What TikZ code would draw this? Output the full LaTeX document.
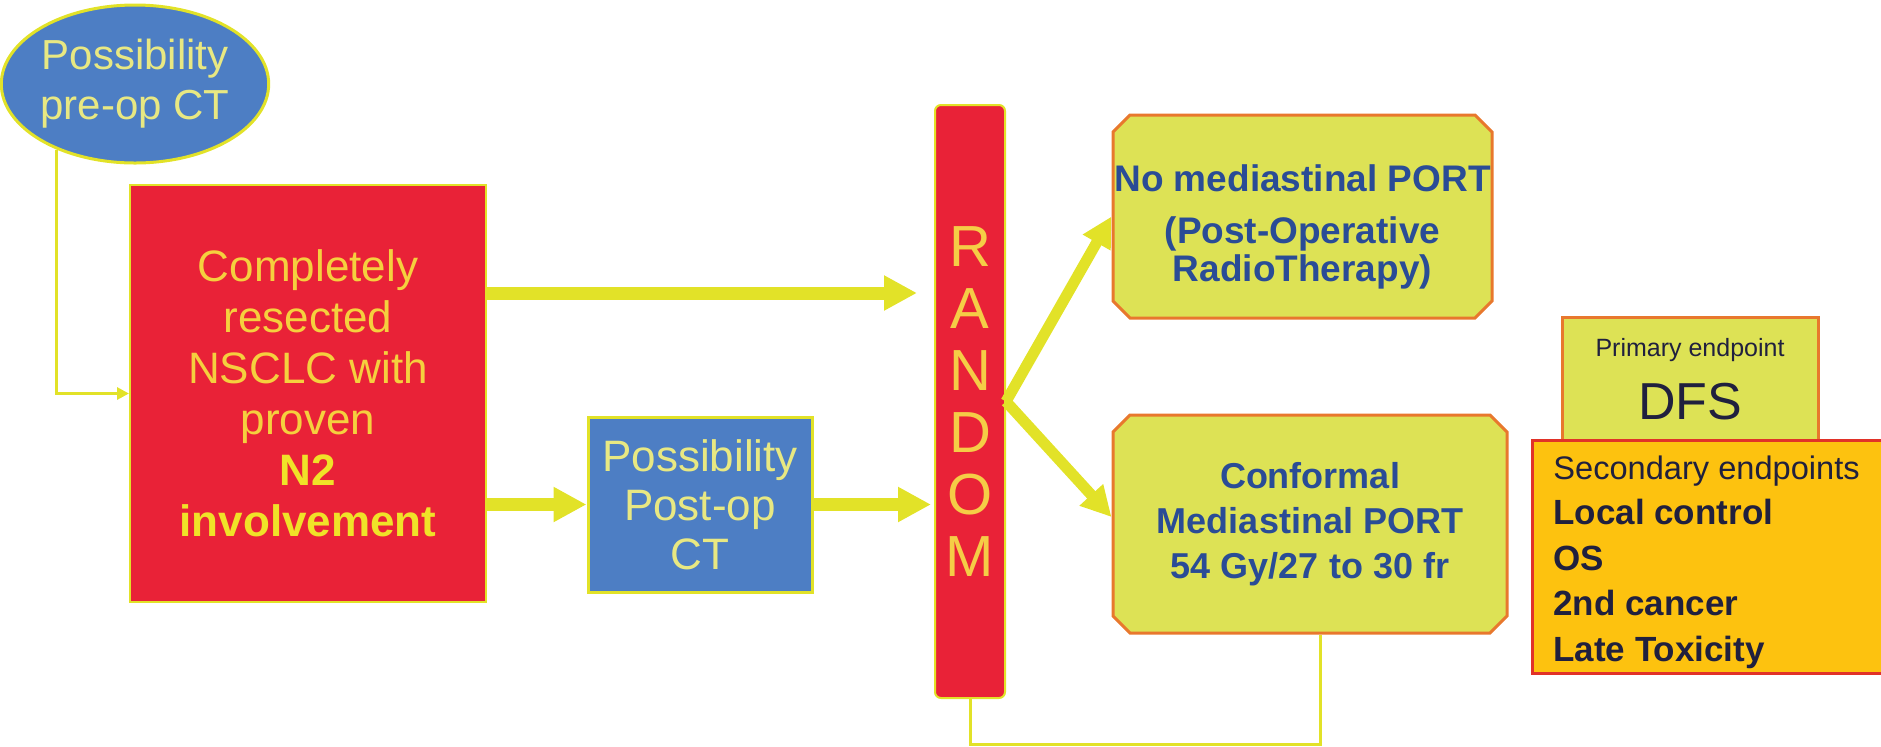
\documentclass[tikz,border=0pt]{standalone}
\usepackage{fontspec}
\setmainfont{Liberation Sans}
\usetikzlibrary{arrows.meta,shapes.geometric,shapes.misc}
\definecolor{redfill}{RGB}{233,34,55}
\definecolor{bluefill}{RGB}{77,126,196}
\definecolor{yel}{RGB}{226,226,40}
\definecolor{redtext}{RGB}{245,208,62}
\definecolor{redbold}{RGB}{240,226,40}
\definecolor{lightyel}{RGB}{232,232,130}
\definecolor{randtext}{RGB}{245,205,70}
\definecolor{boxfill}{RGB}{221,226,85}
\definecolor{boxborder}{RGB}{232,120,45}
\definecolor{navytext}{RGB}{42,76,150}
\definecolor{secfill}{RGB}{253,194,15}
\definecolor{secborder}{RGB}{225,50,40}
\definecolor{darktext}{RGB}{32,32,62}
\begin{document}
\begin{tikzpicture}[x=0.5pt,y=-0.5pt,
  bigarrow/.style={draw=yel, line width=6.5pt, -{Triangle[length=16.5pt,width=16.5pt]}},
  forkarrow/.style={draw=yel, line width=5.5pt, -{Triangle[length=15pt,width=15pt]}},
  thinarrow/.style={draw=yel, line width=1.5pt, -{Triangle[length=6pt,width=6pt]}},
  thinline/.style={draw=yel, line width=1.5pt},
  armbox/.style={chamfered rectangle, chamfered rectangle xsep=5pt, draw=boxborder, fill=boxfill,
    line width=1.5pt, inner sep=0pt, text=navytext, align=center,
    font=\bfseries\fontsize{18}{22.5}\selectfont},
]
\useasboundingbox (0,0) rectangle (1881,746);

\node[ellipse, draw=yel, line width=1.5pt, fill=bluefill, minimum width=123pt, minimum height=79pt,
  inner sep=0pt, text=lightyel, align=center, font=\fontsize{21}{25}\selectfont] (ell) at (135,84)
  {Possibility\\pre-op CT};

\node[rectangle, fill=redfill, draw=yel, line width=1pt, minimum width=178pt, minimum height=208.5pt,
  inner sep=0pt, text=redtext, align=center, font=\fontsize{22}{25.5}\selectfont] (red) at (308,393.5)
  {Completely\\resected\\NSCLC with\\proven\\\textcolor{redbold}{\bfseries N2}\\\textcolor{redbold}{\bfseries involvement}};

\node[rectangle, fill=bluefill, draw=yel, line width=1.5pt, minimum width=112pt, minimum height=87.5pt,
  inner sep=0pt, text=lightyel, align=center, font=\fontsize{22}{24.5}\selectfont] (post) at (700,504.5)
  {Possibility\\Post-op\\CT};

\node[rectangle, rounded corners=3pt, fill=redfill, draw=yel, line width=1pt, minimum width=35pt,
  minimum height=296.5pt, inner sep=0pt, text=randtext, align=center,
  font=\fontsize{29}{31}\selectfont] (rnd) at (970,401.5) {R\\A\\N\\D\\O\\M};

\node[armbox, minimum width=189.5pt, minimum height=101.5pt,
  font=\bfseries\fontsize{18.5}{19}\selectfont] (top) at (1302.5,216.5)
  {\rule{0pt}{24pt}\makebox[175pt][c]{No mediastinal PORT}\\[7pt](Post-Operative\\RadioTherapy)};

\node[armbox, minimum width=197pt, minimum height=109pt] (bot) at (1310,524)
  {Conformal\\Mediastinal PORT\\54 Gy/27 to 30 fr};

\node[rectangle, draw=boxborder, fill=boxfill, line width=1.5pt, minimum width=128pt,
  minimum height=61.5pt, inner sep=0pt] (prim) at (1690,378.5) {};
\node[text=darktext, inner sep=0pt, font=\fontsize{12.5}{14}\selectfont] (primlab) at (1690,350) {Primary endpoint};
\node[text=darktext, inner sep=0pt, font=\fontsize{26}{28}\selectfont] (dfs) at (1690,402) {DFS};

\node[rectangle, draw=secborder, fill=secfill, line width=1.5pt, minimum width=184pt,
  minimum height=116.5pt, inner sep=0pt] (sec) at (1716,556.5) {};
\node[anchor=north west, text=darktext, inner sep=0pt, align=left,
  font=\bfseries\fontsize{17.5}{22.75}\selectfont] (sectext) at (1553,455)
  {{\mdseries\fontsize{16.3}{22.75}\selectfont Secondary endpoints}\\Local control\\OS\\2nd cancer\\Late Toxicity};

% connectors
\draw[thinarrow] (ell.220) |- (red.west);
\coordinate (ta) at ([yshift=50.25pt]red.east);
\draw[bigarrow, shorten >=8.5pt] (ta) -- (ta -| rnd.west);
\draw[bigarrow] (red.east |- post.west) -- (post.west);
\draw[bigarrow, shorten >=1.5pt] (post.east) -- (post.east -| rnd.west);
\draw[forkarrow] (rnd.east) -- (top.west);
\draw[forkarrow] (rnd.east) -- ([yshift=3.5pt]bot.west);
\draw[thinline] ([xshift=5pt]bot.south) -- ++(0,110) -| (rnd.south);
\end{tikzpicture}
\end{document}
